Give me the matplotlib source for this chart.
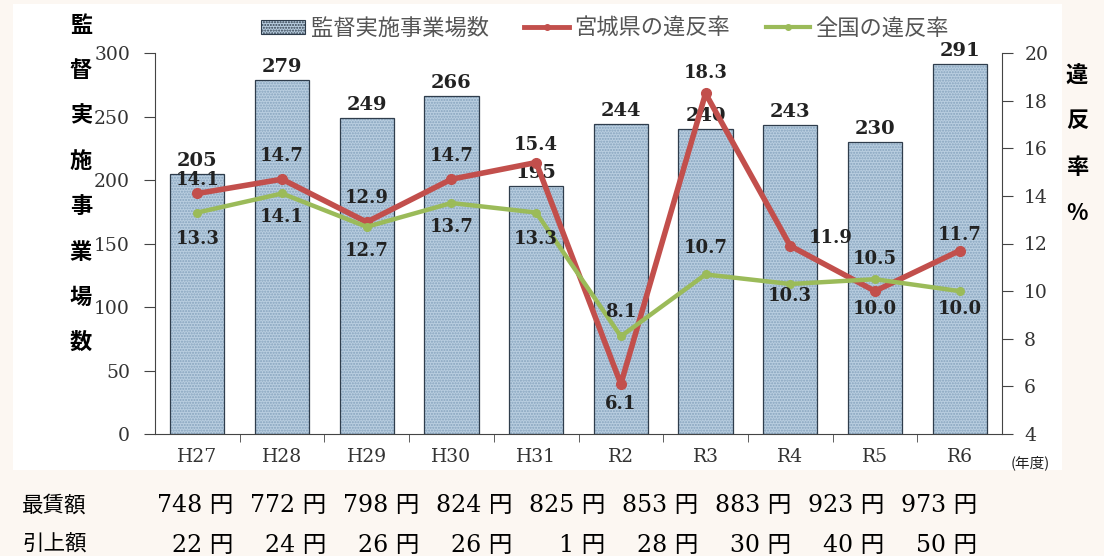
import numpy as np
import matplotlib.pyplot as plt
from matplotlib.patches import Rectangle
from matplotlib.lines import Line2D

plt.rcParams['font.family'] = ['DejaVu Serif', 'Noto Sans CJK JP']

# データ
nendo = ['H27', 'H28', 'H29', 'H30', 'H31', 'R2', 'R3', 'R4', 'R5', 'R6']
jigyojo = [205, 279, 249, 266, 195, 244, 240, 243, 230, 291]
ihan_miyagi = [14.1, 14.7, 12.9, 14.7, 15.4, 6.1, 18.3, 11.9, 10.0, 11.7]
ihan_zenkoku = [13.3, 14.1, 12.7, 13.7, 13.3, 8.1, 10.7, 10.3, 10.5, 10.0]
saichin = [748, 772, 798, 824, 825, 853, 883, 923, 973]
hikiage = [22, 24, 26, 26, 1, 28, 30, 40, 50]

# ラベルの位置 (ピクセル単位のずれ)
off_miyagi = [(0, 13), (0, 23), (0, 24), (0, 23), (0, 18), (0, -20), (0, 20), (40, 8), (0, -18), (0, 16)]
off_zenkoku = [(0, -26), (0, -24), (0, -24), (0, -24), (0, -26), (0, 24), (0, 26), (0, -12), (0, 20), (0, -18)]

BG = '#fcf7f2'
RED = '#c24f4c'
GREEN = '#9bbb59'
BAR = '#b9cee0'
TXT = '#222222'

fig = plt.figure(figsize=(11.04, 5.56), dpi=100, facecolor=BG)
fig.patches.append(Rectangle((13 / 1104, 1 - 470 / 556), 1049 / 1104, 466 / 556,
                             transform=fig.transFigure, facecolor='white', edgecolor='none', zorder=-5))

ax = fig.add_axes([155 / 1104, 1 - 434 / 556, 847 / 1104, 381 / 556])
ax.set_facecolor('none')
x = np.arange(len(nendo))

ax.bar(x, jigyojo, width=0.64, color=BAR, edgecolor='#86a3bd', hatch='......', linewidth=0, zorder=2)
ax.bar(x, jigyojo, width=0.64, fill=False, edgecolor='#2f3d4c', linewidth=0.9, zorder=3)
for xi, v in zip(x, jigyojo):
    ax.annotate(str(v), (xi, v), xytext=(0, 4), textcoords='offset pixels', ha='center', va='bottom',
                fontsize=14, fontweight='bold', color=TXT, zorder=5)

ax.set_xlim(-0.5, 9.5)
ax.set_ylim(0, 300)
ax.set_yticks(range(0, 301, 50))
ax.set_xticks(x)
ax.set_xticklabels(nendo)
ax.set_xticks(np.arange(0.5, 9, 1), minor=True)
ax.tick_params(axis='x', which='major', length=0, pad=10, labelsize=13.5, labelcolor='#333333')
ax.tick_params(axis='x', which='minor', length=6, direction='out', color='#444444')
ax.tick_params(axis='y', length=8, direction='out', pad=10, labelsize=13.5, labelcolor='#333333', color='#444444')
for s in ['top', 'right']:
    ax.spines[s].set_visible(False)
for s in ['left', 'bottom']:
    ax.spines[s].set_color('#444444')

ax2 = ax.twinx()
ax2.set_ylim(4, 20)
ax2.set_yticks(range(4, 21, 2))
ax2.tick_params(axis='y', length=8, direction='out', pad=8, labelsize=13.5, labelcolor='#333333', color='#444444')
for s in ['top', 'left', 'bottom']:
    ax2.spines[s].set_visible(False)
ax2.spines['right'].set_color('#444444')

ax2.plot(x, ihan_miyagi, color=RED, linewidth=4, marker='o', markersize=7, zorder=4)
ax2.plot(x, ihan_zenkoku, color=GREEN, linewidth=3.2, marker='o', markersize=5.5, zorder=4)
for xi, v, o in zip(x, ihan_miyagi, off_miyagi):
    ax2.annotate(f'{v:.1f}', (xi, v), xytext=o, textcoords='offset pixels', ha='center', va='center',
                 fontsize=13, fontweight='bold', color=TXT, zorder=6)
for xi, v, o in zip(x, ihan_zenkoku, off_zenkoku):
    ax2.annotate(f'{v:.1f}', (xi, v), xytext=o, textcoords='offset pixels', ha='center', va='center',
                 fontsize=13, fontweight='bold', color=TXT, zorder=6)

# 凡例
handles = [Rectangle((0, 0), 1, 1, facecolor=BAR, edgecolor='#2f3d4c', hatch='......', linewidth=0.8),
           Line2D([], [], color=RED, linewidth=3.5, marker='o', markersize=4),
           Line2D([], [], color=GREEN, linewidth=3, marker='o', markersize=4)]
fig.legend(handles, ['監督実施事業場数', '宮城県の違反率', '全国の違反率'], loc='center',
           bbox_to_anchor=(605 / 1104, 1 - 28 / 556), ncol=3, frameon=False, handlelength=2.0,
           handleheight=0.6, columnspacing=1.6, handletextpad=0.25,
           prop={'family': ['Noto Sans CJK JP'], 'size': 16}, labelcolor='#555555')

# 軸の見出し (縦書き)
for i, ch in enumerate('監督実施事業場数'):
    fig.text(81 / 1104, 1 - (25 + i * 45.4) / 556, ch, ha='center', va='center',
             fontsize=16, fontweight='bold', family=['Noto Sans CJK JP'], color='black')
for i, ch in enumerate('違反率%'):
    fig.text(1077 / 1104, 1 - (75 + i * 46) / 556, ch, ha='center', va='center',
             fontsize=16, fontweight='bold', family=['Noto Sans CJK JP'], color='black')
fig.text(1030 / 1104, 1 - 463 / 556, '(年度)', ha='center', va='center',
         fontsize=10.5, family=['Noto Sans CJK JP'], color='#222222')

# 最低賃金の表
fig.text(22 / 1104, 1 - 506 / 556, '最賃額', ha='left', va='center', fontsize=15.5,
         family=['Noto Sans CJK JP'], color='black')
fig.text(22 / 1104, 1 - 545 / 556, '引上額', ha='left', va='center', fontsize=15.5,
         family=['Noto Sans CJK JP'], color='black')
for i, (a, b) in enumerate(zip(saichin, hikiage)):
    xr = (233 + i * 93.0) / 1104
    fig.text(xr, 1 - 506 / 556, f'{a} 円', ha='right', va='center', fontsize=17, color='black')
    fig.text(xr, 1 - 545 / 556, f'{b} 円', ha='right', va='center', fontsize=17, color='black')

fig.savefig('out.png', dpi=100, facecolor=BG)
